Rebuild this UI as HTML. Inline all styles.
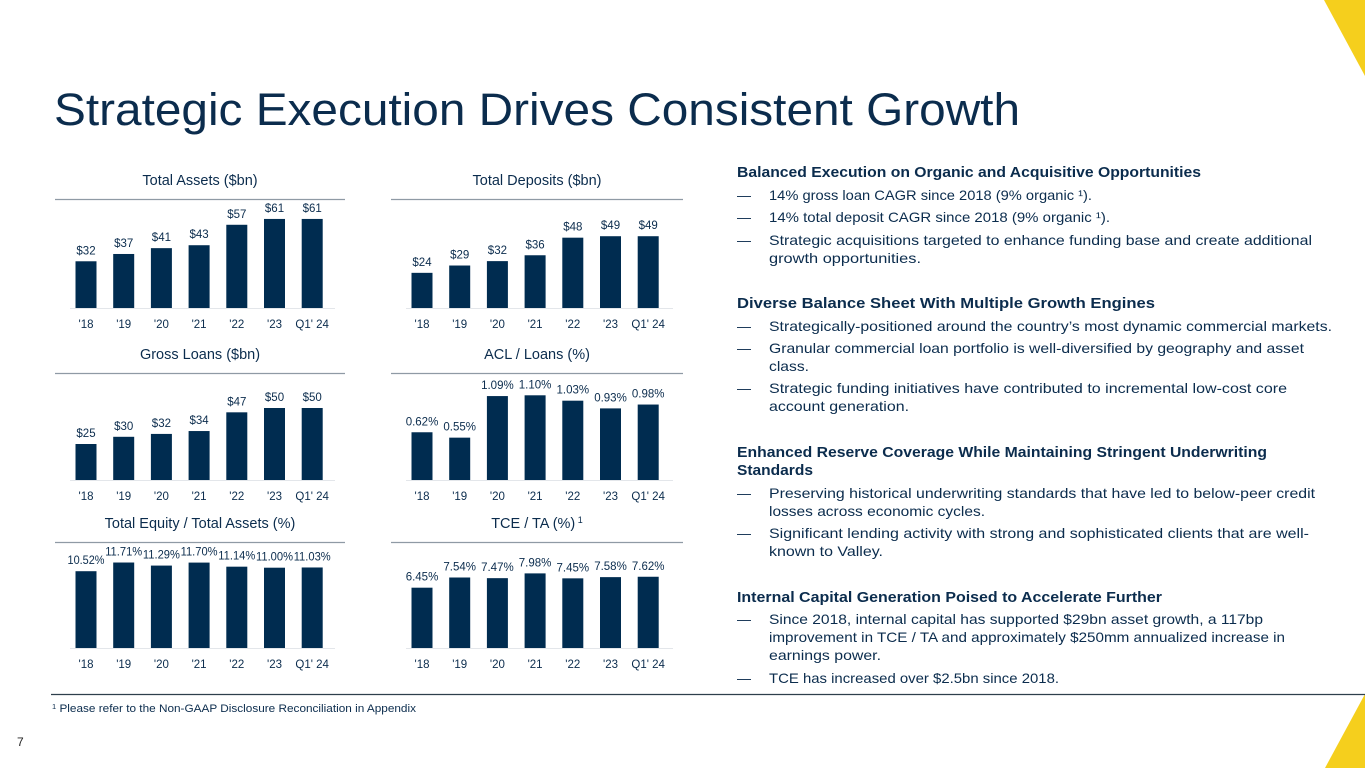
<!DOCTYPE html>
<html>
<head>
<meta charset="utf-8">
<style>
  html,body{margin:0;padding:0;background:#fff;}
  svg{display:block;font-family:"Liberation Sans",sans-serif;}
  .t{fill:#0b2c4d;}
</style>
</head>
<body>
<svg id="page" width="1365" height="768" viewBox="0 0 1365 768" xmlns="http://www.w3.org/2000/svg">
  <polygon points="1324,0 1365,0 1365,76" fill="#f5cf1d"/>
  <polygon points="1365,694 1365,768 1325,768" fill="#f5cf1d"/>
  <text class="t" x="54" y="125" font-size="45" textLength="966" lengthAdjust="spacingAndGlyphs" fill="#0b3356">Strategic Execution Drives Consistent Growth</text>

  <g id="charts"></g>

  <g class="t" font-size="14">
    <text x="737" y="177" font-weight="bold" font-size="14.5" textLength="464" lengthAdjust="spacingAndGlyphs">Balanced Execution on Organic and Acquisitive Opportunities</text>
    <text x="737" y="200">—</text>
    <text x="769" y="200" textLength="323" lengthAdjust="spacingAndGlyphs">14% gross loan CAGR since 2018 (9% organic ¹).</text>
    <text x="737" y="222">—</text>
    <text x="769" y="222" textLength="341" lengthAdjust="spacingAndGlyphs">14% total deposit CAGR since 2018 (9% organic ¹).</text>
    <text x="737" y="245">—</text>
    <text x="769" y="245" textLength="543" lengthAdjust="spacingAndGlyphs">Strategic acquisitions targeted to enhance funding base and create additional</text>
    <text x="769" y="263" textLength="152" lengthAdjust="spacingAndGlyphs">growth opportunities.</text>

    <text x="737" y="308" font-weight="bold" font-size="14.5" textLength="418" lengthAdjust="spacingAndGlyphs">Diverse Balance Sheet With Multiple Growth Engines</text>
    <text x="737" y="331">—</text>
    <text x="769" y="331" textLength="563" lengthAdjust="spacingAndGlyphs">Strategically-positioned around the country’s most dynamic commercial markets.</text>
    <text x="737" y="353">—</text>
    <text x="769" y="353" textLength="535" lengthAdjust="spacingAndGlyphs">Granular commercial loan portfolio is well-diversified by geography and asset</text>
    <text x="769" y="371" textLength="40" lengthAdjust="spacingAndGlyphs">class.</text>
    <text x="737" y="393">—</text>
    <text x="769" y="393" textLength="518" lengthAdjust="spacingAndGlyphs">Strategic funding initiatives have contributed to incremental low-cost core</text>
    <text x="769" y="411" textLength="140" lengthAdjust="spacingAndGlyphs">account generation.</text>

    <text x="737" y="457" font-weight="bold" font-size="14.5" textLength="530" lengthAdjust="spacingAndGlyphs">Enhanced Reserve Coverage While Maintaining Stringent Underwriting</text>
    <text x="737" y="475" font-weight="bold" font-size="14.5" textLength="76" lengthAdjust="spacingAndGlyphs">Standards</text>
    <text x="737" y="498">—</text>
    <text x="769" y="498" textLength="546" lengthAdjust="spacingAndGlyphs">Preserving historical underwriting standards that have led to below-peer credit</text>
    <text x="769" y="516" textLength="216" lengthAdjust="spacingAndGlyphs">losses across economic cycles.</text>
    <text x="737" y="538">—</text>
    <text x="769" y="538" textLength="540" lengthAdjust="spacingAndGlyphs">Significant lending activity with strong and sophisticated clients that are well-</text>
    <text x="769" y="556" textLength="114" lengthAdjust="spacingAndGlyphs">known to Valley.</text>

    <text x="737" y="602" font-weight="bold" font-size="14.5" textLength="425" lengthAdjust="spacingAndGlyphs">Internal Capital Generation Poised to Accelerate Further</text>
    <text x="737" y="624">—</text>
    <text x="769" y="624" textLength="494" lengthAdjust="spacingAndGlyphs">Since 2018, internal capital has supported $29bn asset growth, a 117bp</text>
    <text x="769" y="642" textLength="516" lengthAdjust="spacingAndGlyphs">improvement in TCE / TA and approximately $250mm annualized increase in</text>
    <text x="769" y="660" textLength="112" lengthAdjust="spacingAndGlyphs">earnings power.</text>
    <text x="737" y="683">—</text>
    <text x="769" y="683" textLength="290" lengthAdjust="spacingAndGlyphs">TCE has increased over $2.5bn since 2018.</text>
  </g>

  <line x1="51" y1="694.5" x2="1365" y2="694.5" stroke="#2e3f4c" stroke-width="1.2"/>
  <text class="t" x="52" y="712" font-size="11" textLength="364" lengthAdjust="spacingAndGlyphs"><tspan font-size="7" dy="-3">1</tspan><tspan dy="3"> Please refer to the Non-GAAP Disclosure Reconciliation in Appendix</tspan></text>
  <text x="17" y="746" font-size="12" fill="#222">7</text>
</svg>

<script>
const categories = ["'18","'19","'20","'21","'22","'23","Q1' 24"];
const assetsValues = [32, 37, 41, 43, 57, 61, 61];
const assetsLabels = ["$32","$37","$41","$43","$57","$61","$61"];
const depositsValues = [24, 29, 32, 36, 48, 49, 49];
const depositsLabels = ["$24","$29","$32","$36","$48","$49","$49"];
const loansValues = [25, 30, 32, 34, 47, 50, 50];
const loansLabels = ["$25","$30","$32","$34","$47","$50","$50"];
const aclValues = [0.62, 0.55, 1.09, 1.10, 1.03, 0.93, 0.98];
const aclLabels = ["0.62%","0.55%","1.09%","1.10%","1.03%","0.93%","0.98%"];
const equityValues = [10.52, 11.71, 11.29, 11.70, 11.14, 11.00, 11.03];
const equityLabels = ["10.52%","11.71%","11.29%","11.70%","11.14%","11.00%","11.03%"];
const tceValues = [6.45, 7.54, 7.47, 7.98, 7.45, 7.58, 7.62];
const tceLabels = ["6.45%","7.54%","7.47%","7.98%","7.45%","7.58%","7.62%"];

const NS = "http://www.w3.org/2000/svg";
const root = document.getElementById('charts');
function mk(tag, attrs, parent){
  const e = document.createElementNS(NS, tag);
  for (const k in attrs) e.setAttribute(k, attrs[k]);
  parent.appendChild(e);
  return e;
}
function drawChart(name, title, sup, x0, x1, titleY, baseY, pxPerUnit, values, labels){
  const g = mk('g', {}, root);
  
  
  const cx = (x0 + x1) / 2;
  const tt = mk('text', {x: cx, y: titleY, 'text-anchor':'middle', 'font-size':'14.5', fill:'#0b2c4d'}, g);
  tt.textContent = title;
  
  
  if (sup){
    const s = mk('tspan', {'font-size':'9', dy:'-5'}, tt);
    s.textContent = ' ' + sup;
  }
  const rule = mk('line', {x1:x0, x2:x1, y1:titleY+14.5, y2:titleY+14.5, stroke:'#8f9aa5', 'stroke-width':'1.3'}, g);
  
  
  const first = x0 + 31, step = 37.7, bw = 21;
  const xPos = i => first + i * step;
  const yPos = v => baseY - v * pxPerUnit;
  const ax = mk('line', {x1:x0+15, x2:x1-10, y1:baseY+0.5, y2:baseY+0.5, stroke:'#e3e6ea', 'stroke-width':'1'}, g);
  
  
  values.forEach((v, i) => {
    const c = xPos(i), top = yPos(v);
    const r = mk('rect', {x: c - bw/2, y: top, width: bw, height: baseY - top, fill:'#002c50'}, g);
    
    
    const lt = mk('text', {x:c, y: top - 7, 'text-anchor':'middle', 'font-size':'11.5', fill:'#0b2c4d'}, g);
    if (labels[i].length > 5) { lt.setAttribute('textLength', '37'); lt.setAttribute('lengthAdjust', 'spacingAndGlyphs'); }
    lt.textContent = labels[i];
    
    
    const ct = mk('text', {x:c, y: baseY + 20, 'text-anchor':'middle', 'font-size':'11.5', fill:'#0b2c4d'}, g);
    ct.textContent = categories[i];
    
    
  });
}
drawChart('total-assets-chart', 'Total Assets ($bn)', '', 55, 345, 185, 308, 1.46, assetsValues, assetsLabels);
drawChart('total-deposits-chart', 'Total Deposits ($bn)', '', 391, 683, 185, 308, 1.465, depositsValues, depositsLabels);
drawChart('gross-loans-chart', 'Gross Loans ($bn)', '', 55, 345, 359, 480, 1.44, loansValues, loansLabels);
drawChart('acl-loans-chart', 'ACL / Loans (%)', '', 391, 683, 359, 480, 77, aclValues, aclLabels);
drawChart('equity-assets-chart', 'Total Equity / Total Assets (%)', '', 55, 345, 528, 648, 7.3, equityValues, equityLabels);
drawChart('tce-ta-chart', 'TCE / TA (%)', '1', 391, 683, 528, 648, 9.35, tceValues, tceLabels);
</script>
</body>
</html>
